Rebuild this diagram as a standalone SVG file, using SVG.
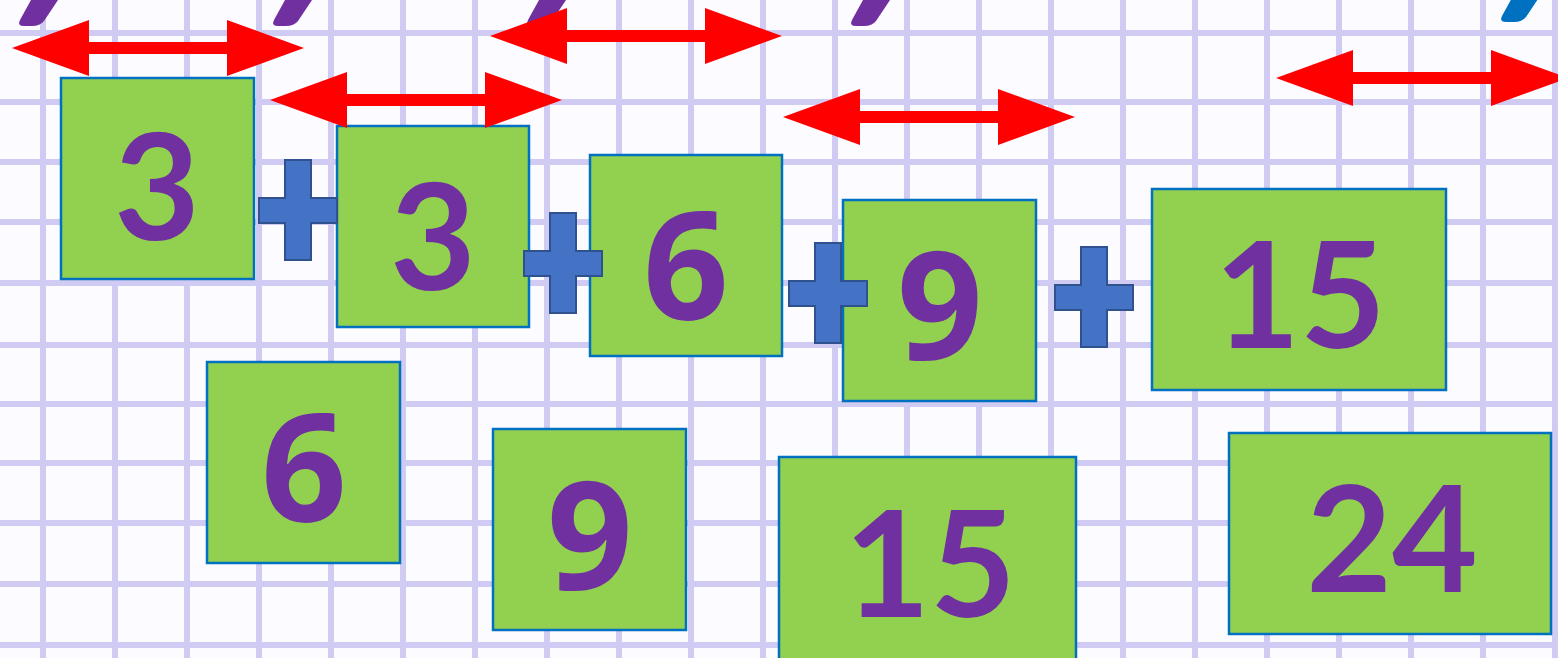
<svg xmlns="http://www.w3.org/2000/svg" width="1558" height="658" viewBox="0 0 1558 658">
<defs>
<style>
.bg{fill:#fcfbff}
.grid line{stroke:#cfcbf2;stroke-width:6}
.box rect{fill:#92d050;stroke:#0070c0;stroke-width:2.5}
.box text{font-family:"Lato","Open Sans",sans-serif;font-weight:700;font-size:148px;fill:#7030a0;text-anchor:middle}
.box text.r{font-family:"Open Sans","Lato",sans-serif;font-size:150px}
.plus{fill:#4472c4;stroke:#2f528f;stroke-width:2}
.arrow{fill:#ff0000}
.slash{fill:#7030a0}
</style>
<path id="dbl" d="M0 0 L77 -28 L77 -6 L215 -6 L215 -28 L292 0 L215 28 L215 6 L77 6 L77 28 Z"/>
<path id="pl" d="M-13 -50 L13 -50 L13 -12 L39 -12 L39 13 L13 13 L13 50 L-13 50 L-13 13 L-39 13 L-39 -12 L-13 -12 Z"/>
<path id="sl" d="M13 -26 L40 -26 L26 -5 Q22 0 14 0 L6 0 Q-1 0 2 -6 Z"/>
</defs>
<rect class="bg" x="0" y="0" width="1558" height="658"/>
<g class="grid">
<line x1="43" y1="0" x2="43" y2="658"/><line x1="115" y1="0" x2="115" y2="658"/><line x1="187" y1="0" x2="187" y2="658"/><line x1="259" y1="0" x2="259" y2="658"/><line x1="331" y1="0" x2="331" y2="658"/><line x1="403" y1="0" x2="403" y2="658"/><line x1="475" y1="0" x2="475" y2="658"/><line x1="547" y1="0" x2="547" y2="658"/><line x1="619" y1="0" x2="619" y2="658"/><line x1="691" y1="0" x2="691" y2="658"/><line x1="763" y1="0" x2="763" y2="658"/><line x1="835" y1="0" x2="835" y2="658"/><line x1="907" y1="0" x2="907" y2="658"/><line x1="979" y1="0" x2="979" y2="658"/><line x1="1051" y1="0" x2="1051" y2="658"/><line x1="1123" y1="0" x2="1123" y2="658"/><line x1="1195" y1="0" x2="1195" y2="658"/><line x1="1267" y1="0" x2="1267" y2="658"/><line x1="1339" y1="0" x2="1339" y2="658"/><line x1="1411" y1="0" x2="1411" y2="658"/><line x1="1483" y1="0" x2="1483" y2="658"/><line x1="1555" y1="0" x2="1555" y2="658"/>
<line x1="0" y1="33" x2="1558" y2="33"/><line x1="0" y1="102" x2="1558" y2="102"/><line x1="0" y1="162" x2="1558" y2="162"/><line x1="0" y1="222" x2="1558" y2="222"/><line x1="0" y1="283" x2="1558" y2="283"/><line x1="0" y1="345" x2="1558" y2="345"/><line x1="0" y1="404" x2="1558" y2="404"/><line x1="0" y1="463" x2="1558" y2="463"/><line x1="0" y1="523" x2="1558" y2="523"/><line x1="0" y1="584" x2="1558" y2="584"/><line x1="0" y1="645" x2="1558" y2="645"/>
</g>
<g id="slashes">
<use href="#sl" class="slash" x="18" y="26"/>
<use href="#sl" class="slash" x="272" y="26"/>
<use href="#sl" class="slash" x="526" y="26"/>
<use href="#sl" class="slash" x="850" y="26"/>
<use href="#sl" x="1500" y="22" fill="#0070c0"/>
</g>
<g id="box1" class="box"><rect x="61" y="78" width="193" height="201"/><text x="157" y="240">3</text></g>
<g id="box2" class="box"><rect x="337" y="126" width="192" height="201"/><text x="433" y="290">3</text></g>
<g id="box3" class="box"><rect x="590" y="155" width="192" height="201"/><text class="r" x="686" y="320">6</text></g>
<g id="box4" class="box"><rect x="843" y="200" width="193" height="201"/><text class="r" x="940" y="360">9</text></g>
<g id="box5" class="box"><rect x="1152" y="189" width="294" height="201"/><text x="1300" y="348">15</text></g>
<g id="box6" class="box"><rect x="207" y="362" width="193" height="201"/><text class="r" x="304" y="522">6</text></g>
<g id="box7" class="box"><rect x="493" y="429" width="193" height="201"/><text class="r" x="590" y="590">9</text></g>
<g id="box8" class="box"><rect x="779" y="457" width="297" height="210"/><text x="930" y="617">15</text></g>
<g id="box9" class="box"><rect x="1229" y="433" width="322" height="201"/><text x="1392" y="592">24</text></g>
<g id="plus-signs">
<use href="#pl" class="plus" x="298" y="210"/>
<use href="#pl" class="plus" x="563" y="263"/>
<use href="#pl" class="plus" x="828" y="293"/>
<use href="#pl" class="plus" x="1094" y="297"/>
</g>
<g id="connectors">
<use href="#dbl" class="arrow" x="12" y="48"/>
<use href="#dbl" class="arrow" x="270" y="100"/>
<use href="#dbl" class="arrow" x="490" y="36"/>
<use href="#dbl" class="arrow" x="783" y="117"/>
<use href="#dbl" class="arrow" x="1276" y="78"/>
</g>
</svg>
